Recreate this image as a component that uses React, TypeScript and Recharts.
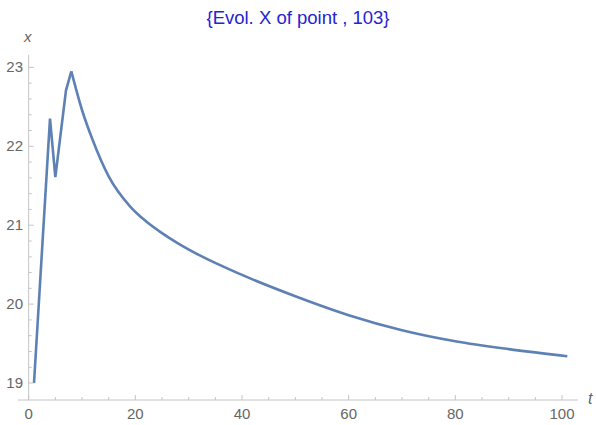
import React from 'react';
import { LineChart, Line, XAxis, YAxis, ReferenceLine } from 'recharts';

// time steps and x-values
const tRise = [1, 4, 5, 7, 8];
const xRise = [19.0, 22.35, 21.61, 22.71, 22.95];

const tDecay = [8, 10, 12, 15, 19, 22, 25, 28, 32, 40, 50, 60, 70, 80, 90, 101];
const xDecay = [22.95, 22.46, 22.08, 21.62, 21.24, 21.05, 20.9, 20.77, 20.62, 20.37, 20.1, 19.86, 19.67, 19.53, 19.43, 19.34];

const tTicks = [0, 5, 10, 15, 20, 25, 30, 35, 40, 45, 50, 55, 60, 65, 70, 75, 80, 85, 90, 95, 100];
const xTicks = [19, 19.2, 19.4, 19.6, 19.8, 20, 20.2, 20.4, 20.6, 20.8, 21, 21.2, 21.4, 21.6, 21.8, 22, 22.2, 22.4, 22.6, 22.8, 23];

const title = '{Evol. X of point , 103}';

const riseData = tRise.map((t, i) => ({ t, x: xRise[i] }));
const decayData = tDecay.map((t, i) => ({ t, x: xDecay[i] }));

const LINE_COLOR = '#5e81b5';
const AXIS_COLOR = '#c4c4c4';
const LABEL_COLOR = '#666';
const FONT = '"Liberation Sans", Arial, sans-serif';
const Y_AXIS_X = 28.7; // pixel position of t = 0
const X_AXIS_Y = 400; // pixel position of the time axis

const isMajor = (v: number, step: number) => Math.abs(v / step - Math.round(v / step)) < 1e-6;

const TimeTick = (props: any) => {
  const { x, payload } = props;
  const major = isMajor(payload.value, 20);
  return (
    <g>
      <line x1={x} x2={x} y1={X_AXIS_Y} y2={X_AXIS_Y - (major ? 5 : 3)} stroke={AXIS_COLOR} />
      {major && (
        <text x={x} y={X_AXIS_Y + 19} textAnchor="middle" fill={LABEL_COLOR} fontSize={15} fontFamily={FONT}>
          {payload.value}
        </text>
      )}
    </g>
  );
};

const ValueTick = (props: any) => {
  const { y, payload } = props;
  const major = isMajor(payload.value, 1);
  return (
    <g>
      <line x1={Y_AXIS_X} x2={Y_AXIS_X + (major ? 5 : 3)} y1={y} y2={y} stroke={AXIS_COLOR} />
      {major && (
        <text x={23} y={y + 5} textAnchor="end" fill={LABEL_COLOR} fontSize={15} fontFamily={FONT}>
          {Math.round(payload.value)}
        </text>
      )}
    </g>
  );
};

const App: React.FC = () => {
  return (
    <div style={{ position: 'absolute', left: 0, top: 0, width: 596, height: 425, background: '#fff' }}>
      <div
        style={{
          position: 'absolute',
          top: 7,
          left: 0,
          width: 596,
          textAlign: 'center',
          color: '#2424d2',
          fontFamily: FONT,
          fontSize: 18.5,
        }}
      >
        {title}
      </div>
      <div style={{ position: 'absolute', left: 24, top: 28, color: LABEL_COLOR, fontFamily: FONT, fontStyle: 'italic', fontSize: 15 }}>
        x
      </div>
      <div style={{ position: 'absolute', left: 588, top: 390, color: LABEL_COLOR, fontFamily: FONT, fontStyle: 'italic', fontSize: 16 }}>
        t
      </div>
      <LineChart width={596} height={425} margin={{ top: 55, right: 18, bottom: 0, left: 0 }}>
        <XAxis
          dataKey="t"
          type="number"
          domain={[-2, 103]}
          ticks={tTicks}
          interval={0}
          allowDataOverflow
          height={25}
          axisLine={{ stroke: AXIS_COLOR }}
          tickLine={false}
          tickSize={0}
          tick={<TimeTick />}
        />
        <YAxis
          dataKey="x"
          type="number"
          domain={[18.785, 23.157]}
          ticks={xTicks}
          interval={0}
          allowDataOverflow
          width={18}
          axisLine={false}
          tickLine={false}
          tickSize={0}
          tick={<ValueTick />}
        />
        <ReferenceLine x={0} stroke={AXIS_COLOR} />
        <Line
          data={riseData}
          dataKey="x"
          type="linear"
          stroke={LINE_COLOR}
          strokeWidth={2.6}
          dot={false}
          isAnimationActive={false}
        />
        <Line
          data={decayData}
          dataKey="x"
          type="monotone"
          stroke={LINE_COLOR}
          strokeWidth={2.6}
          dot={false}
          isAnimationActive={false}
        />
      </LineChart>
    </div>
  );
};

export default App;
